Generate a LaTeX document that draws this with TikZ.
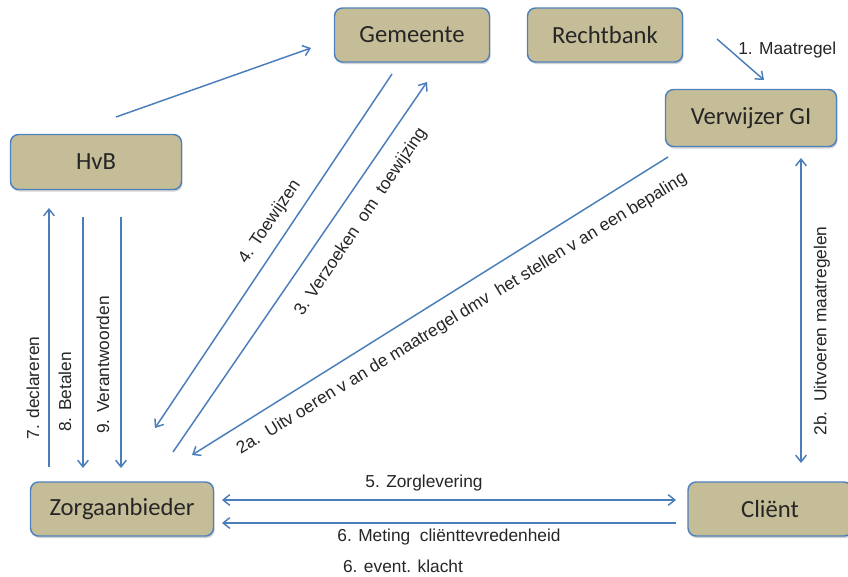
\documentclass[tikz,border=0pt]{standalone}
\usepackage{fontspec}
\setmainfont{Liberation Sans}
\newfontfamily\boxfont{Carlito}
\usetikzlibrary{arrows.meta,shadows}
\definecolor{boxfill}{RGB}{196,189,151}
\definecolor{boxline}{RGB}{79,129,189}
\definecolor{arrowcol}{RGB}{74,126,187}
\definecolor{txt}{RGB}{38,38,38}
\begin{document}
\begin{tikzpicture}[x=0.75pt,y=-0.75pt,
  entity/.style={draw=boxline, line width=1.1pt, fill=boxfill, rounded corners=6pt,
    inner sep=0pt, text=txt, font=\boxfont\fontsize{18.5}{20}\selectfont,
    drop shadow={shadow xshift=0.8pt, shadow yshift=-1.5pt, fill=black!35, opacity=0.5}},
  flow/.style={draw=arrowcol, line width=1.1pt, -{Straight Barb[length=5pt,width=8pt]}},
  flowboth/.style={draw=arrowcol, line width=1.1pt, {Straight Barb[length=5pt,width=8pt]}-{Straight Barb[length=5pt,width=8pt]}},
  lbl/.style={text=txt, font=\fontsize{13}{15}\selectfont, inner sep=0pt}
]
\useasboundingbox (0,0) rectangle (848,576);
\fill[white] (0,0) rectangle (848,576);

% nodes
\node[entity, minimum width=155*0.75pt, minimum height=54*0.75pt] (gem) at (412,35) {Gemeente};
\node[entity, minimum width=155*0.75pt, minimum height=54*0.75pt] (rb) at (605,35) {Rechtbank};
\node[entity, minimum width=171*0.75pt, minimum height=57*0.75pt] (gi) at (751,118) {Verwijzer GI};
\node[entity, minimum width=171*0.75pt, minimum height=55*0.75pt] (hvb) at (96,162) {HvB};
\node[entity, minimum width=183*0.75pt, minimum height=54*0.75pt] (za) at (122,509) {Zorgaanbieder};
\node[entity, minimum width=164*0.75pt, minimum height=54*0.75pt] (cl) at (770,509) {Cliënt};

% connector end points
\coordinate (hvbA) at (116,117);  \coordinate (gemA) at (311,48);
\coordinate (rbA) at (717,39);    \coordinate (giA) at (764,80);
\coordinate (gem4) at (392,74);   \coordinate (za4) at (155,428);
\coordinate (za3) at (173,452);   \coordinate (gem3) at (427,82);
\coordinate (gi2a) at (668,157);  \coordinate (za2a) at (192,455);
\coordinate (gi2b) at (801,158);  \coordinate (cl2b) at (801,463);
\coordinate (za7) at (49,467);    \coordinate (hvb7) at (49,208);
\coordinate (hvb8) at (83,217);   \coordinate (za8) at (83,468);
\coordinate (hvb9) at (121,217);  \coordinate (za9) at (121,468);
\coordinate (za5) at (222,500);   \coordinate (cl5) at (676,500);
\coordinate (cl6) at (676,523);   \coordinate (za6) at (222,523);

% connectors
\draw[flow] (hvbA) -- (gemA);
\draw[flow] (rbA) -- (giA);
\draw[flow] (gem4) -- (za4);
\draw[flow] (za3) -- (gem3);
\draw[flow] (gi2a) -- (za2a);
\draw[flowboth] (gi2b) -- (cl2b);
\draw[flow] (za7) -- (hvb7);
\draw[flow] (hvb8) -- (za8);
\draw[flow] (hvb9) -- (za9);
\draw[flowboth] (za5) -- (cl5);
\draw[flow] (cl6) -- (za6);

% labels
\node[lbl, anchor=west] (l1) at (738,50) {1. Maatregel};
\node[lbl, rotate=56] (l4) at (270,222) {4. Toewijzen};
\node[lbl, rotate=56] (l3) at (361,222) {3. Verzoeken\ \ om\ \ toewijzing};
\node[lbl, rotate=31.5] (l2a) at (462,314) {2a.\ \ Uitv oeren v an de maatregel dmv\ \ het stellen v an een bepaling};
\node[lbl, rotate=90] (l2b) at (822,331) {2b.\ \ Uitvoeren maatregelen};
\node[lbl, rotate=90] (l7) at (33,388) {7. declareren};
\node[lbl, rotate=90] (l8) at (65,392) {8. Betalen};
\node[lbl, rotate=90] (l9) at (103,365) {9. Verantwoorden};
\node[lbl] (l5) at (424,483) {5. Zorglevering};
\node[lbl] (l6a) at (449,537) {6. Meting\ \ cliënttevredenheid};
\node[lbl] (l6b) at (403,566) {6. event. klacht};
\end{tikzpicture}
\end{document}
